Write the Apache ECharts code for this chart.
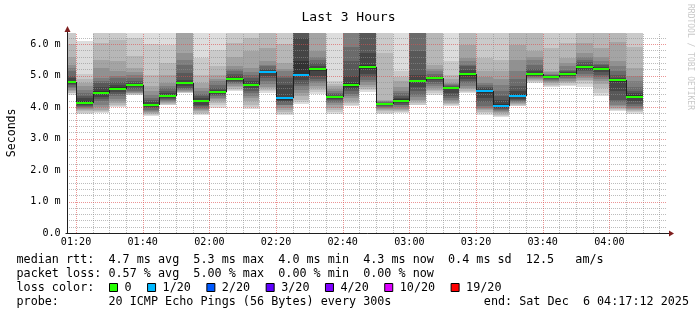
<!DOCTYPE html>
<html><head><meta charset="utf-8">
<script src="https://cdn.jsdelivr.net/npm/echarts@6/dist/echarts.min.js"></script>
<style>html,body{margin:0;padding:0;background:#fff}#c{width:697px;height:315px}</style>
</head><body><div id="c"></div>
<script>
// ---------------- data ----------------
const chartTitle = 'Last 3 Hours';
const yAxisName = 'Seconds';
const watermark = 'RRDTOOL / TOBI OETIKER';
const windowStart = '01:17:12';
const windowEnd = '04:17:12';
const yMax = 6.36;
const xTickLabels = ['01:20','01:40','02:00','02:20','02:40','03:00','03:20','03:40','04:00'];
const yTickValues = [0, 1, 2, 3, 4, 5, 6];
const barEnds = ['01:20','01:25','01:30','01:35','01:40','01:45','01:50','01:55','02:00','02:05','02:10','02:15',
  '02:20','02:25','02:30','02:35','02:40','02:45','02:50','02:55','03:00','03:05','03:10','03:15',
  '03:20','03:25','03:30','03:35','03:40','03:45','03:50','03:55','04:00','04:05','04:10'];
const medians = [4.80,4.14,4.43,4.58,4.70,4.06,4.36,4.75,4.19,4.49,4.90,4.69,5.10,4.28,5.02,5.20,4.31,4.69,5.27,4.10,
  4.19,4.82,4.91,4.59,5.04,4.50,4.04,4.35,5.04,4.95,5.05,5.28,5.22,4.86,4.33];
const lossCount = [0,0,0,0,0,0,0,0,0,0,0,0,1,1,1,0,0,0,0,0,0,0,0,0,0,1,1,1,0,0,0,0,0,0,0];
// 20 sorted ping rtts (ms) per 5-minute step
const smokePings = [
 [4.39,4.44,4.46,4.50,4.55,4.60,4.65,4.70,4.74,4.78,4.84,4.92,5.00,5.13,5.25,5.35,5.60,6.00,6.50,7.50],
 [3.78,3.82,3.86,3.90,3.94,3.97,4.00,4.03,4.06,4.10,4.18,4.28,4.36,4.44,4.55,4.66,4.75,4.90,5.05,6.10],
 [3.80,3.83,3.87,3.92,4.00,4.07,4.18,4.25,4.33,4.40,4.52,4.62,4.76,4.84,4.92,5.24,5.50,6.03,6.60,7.20],
 [3.99,4.02,4.06,4.13,4.20,4.27,4.34,4.40,4.47,4.54,4.62,4.71,4.80,4.92,5.00,5.13,5.45,6.14,6.60,7.20],
 [4.37,4.39,4.41,4.43,4.45,4.48,4.52,4.57,4.62,4.67,4.71,4.76,4.82,4.92,5.03,5.10,5.24,5.61,6.19,7.00],
 [3.70,3.74,3.78,3.81,3.84,3.88,3.92,3.96,3.99,4.03,4.10,4.16,4.23,4.30,4.39,4.50,4.66,5.03,6.00,7.00],
 [4.05,4.07,4.09,4.12,4.15,4.18,4.21,4.25,4.29,4.32,4.39,4.45,4.52,4.60,4.68,4.76,5.03,5.40,5.98,6.80],
 [4.44,4.45,4.47,4.49,4.51,4.53,4.56,4.61,4.67,4.72,4.77,4.87,5.08,5.34,5.50,5.71,6.60,7.00,7.50,8.00],
 [3.74,3.78,3.82,3.86,3.90,3.94,3.98,4.03,4.08,4.15,4.23,4.29,4.35,4.42,4.50,4.60,4.76,5.03,5.55,6.80],
 [3.97,4.05,4.13,4.18,4.24,4.29,4.34,4.38,4.42,4.47,4.52,4.55,4.60,4.70,4.82,4.90,5.03,5.29,5.82,6.80],
 [4.50,4.55,4.58,4.63,4.68,4.72,4.76,4.80,4.84,4.88,4.93,4.97,5.05,5.13,5.20,5.29,5.60,6.03,6.60,7.50],
 [3.94,4.00,4.07,4.18,4.29,4.36,4.45,4.52,4.60,4.66,4.73,4.82,4.92,5.03,5.10,5.24,5.77,6.19,6.60,7.00],
 [4.44,4.50,4.55,4.60,4.65,4.72,4.82,4.92,5.00,5.08,5.12,5.17,5.22,5.29,5.35,5.45,5.87,6.40,6.80,7.50],
 [3.74,3.79,3.85,3.92,3.98,4.05,4.08,4.15,4.20,4.22,4.32,4.70,4.92,5.00,5.13,5.20,5.40,6.00,6.50,7.00],
 [4.10,4.15,4.23,4.35,4.44,4.55,4.66,4.72,4.85,4.97,5.45,6.19,6.50,6.80,7.00,7.20,7.50,8.00,8.50,9.00],
 [4.42,4.48,4.55,4.60,4.66,4.75,4.82,4.90,5.00,5.15,5.22,5.29,5.40,5.50,5.60,5.77,6.60,7.00,7.50,8.00],
 [3.78,3.85,3.92,3.98,4.05,4.12,4.16,4.21,4.25,4.29,4.33,4.36,4.40,4.45,4.50,4.58,4.66,4.72,4.82,7.00],
 [4.02,4.06,4.12,4.20,4.29,4.35,4.42,4.50,4.58,4.65,4.75,5.00,5.45,5.90,6.50,7.00,7.50,8.00,8.50,9.00],
 [4.48,4.53,4.58,4.65,4.71,4.80,4.87,4.95,5.05,5.20,5.34,5.71,6.50,6.80,7.00,7.20,7.50,8.00,8.50,9.00],
 [3.78,3.82,3.86,3.90,3.94,3.97,4.00,4.04,4.07,4.09,4.11,4.12,4.14,4.16,4.18,4.20,4.23,5.71,6.80,7.50],
 [3.81,3.84,3.88,3.92,3.95,4.00,4.05,4.08,4.13,4.18,4.24,4.30,4.36,4.44,4.52,4.65,4.82,4.95,5.13,7.00],
 [4.05,4.08,4.13,4.18,4.23,4.32,4.39,4.52,4.65,4.78,4.87,5.03,5.77,6.60,7.00,7.20,7.50,8.00,8.50,9.00],
 [4.39,4.45,4.50,4.55,4.60,4.66,4.72,4.80,4.87,4.90,4.93,4.95,4.97,5.05,5.13,5.20,5.34,6.50,7.00,8.00],
 [4.02,4.05,4.09,4.13,4.18,4.23,4.28,4.35,4.45,4.56,4.60,4.63,4.66,4.70,4.72,4.76,4.90,5.03,5.45,7.00],
 [4.46,4.49,4.52,4.56,4.60,4.68,4.76,4.82,4.90,5.00,5.08,5.18,5.29,5.35,5.45,5.56,5.98,6.50,7.00,8.00],
 [3.76,3.80,3.85,3.89,3.93,3.97,4.02,4.15,4.30,4.45,4.55,4.60,4.65,4.70,4.76,4.95,5.13,5.56,6.60,7.00],
 [3.68,3.71,3.76,3.81,3.83,3.86,3.90,3.93,3.97,4.02,4.10,4.23,4.35,4.50,4.71,4.90,5.13,5.50,6.50,7.00],
 [4.02,4.04,4.07,4.10,4.12,4.15,4.18,4.22,4.26,4.31,4.42,4.52,4.66,4.90,5.13,5.50,5.98,6.50,7.00,8.00],
 [4.77,4.80,4.83,4.86,4.89,4.92,4.94,4.97,5.00,5.02,5.08,5.13,5.20,5.35,5.50,5.60,5.77,6.50,7.00,8.00],
 [4.62,4.66,4.71,4.75,4.78,4.82,4.85,4.88,4.92,4.95,4.97,4.99,5.01,5.03,5.06,5.10,5.13,5.87,6.60,7.00],
 [4.66,4.71,4.76,4.80,4.84,4.88,4.92,4.97,5.00,5.03,5.07,5.10,5.14,5.19,5.30,5.40,5.56,6.03,6.60,7.50],
 [4.63,4.72,4.82,4.87,4.92,4.98,5.05,5.13,5.18,5.24,5.29,5.34,5.42,5.50,5.60,5.71,6.03,6.50,7.00,8.00],
 [4.34,4.45,4.60,4.72,4.82,4.88,4.95,5.03,5.10,5.18,5.24,5.28,5.34,5.38,5.45,5.60,5.87,6.50,7.00,8.00],
 [3.87,3.90,3.94,3.97,4.02,4.07,4.15,4.23,4.50,4.80,4.88,4.92,5.02,5.13,5.30,5.45,6.08,6.50,7.00,8.00],
 [3.78,3.83,3.88,3.92,3.95,3.98,4.02,4.10,4.20,4.30,4.37,4.44,4.50,4.65,4.82,5.00,5.24,5.90,6.60,7.00]
];
const lossLevels = [0, 1, 2, 3, 4, 10, 19];
const lossLabels = ['0', '1/20', '2/20', '3/20', '4/20', '10/20', '19/20'];
const lossColors = ['#26ff00', '#00b8ff', '#0059ff', '#5e00ff', '#7e00ff', '#dd00ff', '#ff0000'];
const legendMedian = 'median rtt:  4.7 ms avg  5.3 ms max  4.0 ms min  4.3 ms now  0.4 ms sd  12.5   am/s';
const legendLoss = 'packet loss: 0.57 % avg  5.00 % max  0.00 % min  0.00 % now';
const legendColorTitle = 'loss color:';
const legendProbe = 'probe:       20 ICMP Echo Pings (56 Bytes) every 300s';
const legendEnd = 'end: Sat Dec  6 04:17:12 2025';

// ---------------- helpers ----------------
const FONT = '"DejaVu Sans Mono", monospace';
const LEGEND_PX = 11.75;
const toMin = s => { const p = s.split(':').map(Number); return p[0] * 60 + p[1] + (p[2] || 0) / 60; };
const xMin = toMin(windowStart), xMax = toMin(windowEnd);
const tickValues = xTickLabels.map(toMin);
const labelOf = v => { const i = tickValues.findIndex(t => Math.abs(t - v) < 1e-6); return i >= 0 ? xTickLabels[i] : ''; };
const half = 10;
const greyOf = ibase => { const g = Math.floor(190 / half * (half - ibase)) + 50; return 'rgb(' + g + ',' + g + ',' + g + ')'; };
const lossColorOf = n => { let c = lossColors[0]; lossLevels.forEach((l, i) => { if (n >= l) c = lossColors[i]; }); return c; };

// grid line positions (derived from the axis ranges)
const minorX = [], majorX = [], minorY = [], majorY = [];
for (let t = Math.ceil(xMin / 5) * 5; t <= xMax; t += 5) (t % 20 === 0 ? majorX : minorX).push([t, 0]);
for (let k = 1; k * 0.2 <= yMax + 1e-9; k++) (k % 5 === 0 ? majorY : minorY).push([xMin, Math.round(k * 2) / 10]);

const smokeData = barEnds.map((e, i) => [toMin(e), i]);

const chart = echarts.init(document.getElementById('c'), null, { renderer: 'canvas', width: 697, height: 315 });

function renderSmoke(params, api) {
  const i = params.dataIndex;
  const end = api.value(0);
  const start = Math.max(end - 5, xMin);
  const p = smokePings[i];
  const children = [];
  for (let k = 0; k < p.length - 1; k++) {
    const lo = Math.min(p[k], yMax), hi = Math.min(p[k + 1], yMax);
    if (hi <= lo) continue;
    const b = k + 1;
    const ibase = b <= half ? b : (2 * half - b);
    const a = api.coord([start, lo]), c = api.coord([end, hi]);
    const x0 = Math.round(a[0]), x1 = Math.round(c[0]);
    const yb = Math.round(a[1]), yt = Math.round(c[1]);
    if (yb - yt <= 0) continue;
    children.push({ type: 'rect', shape: { x: x0, y: yt, width: x1 - x0, height: yb - yt },
      style: { fill: greyOf(ibase) }, silent: true });
  }
  return { type: 'group', children };
}

const makeGridRenderer = (vertical, color) => function (params, api) {
  let x1, y1, x2, y2;
  if (vertical) {
    const v = api.value(0);
    const a = api.coord([v, 0]), b = api.coord([v, yMax]);
    x1 = x2 = Math.round(a[0]) + 0.5; y1 = Math.round(a[1]); y2 = Math.round(b[1]);
  } else {
    const v = api.value(1);
    const a = api.coord([xMin, v]), b = api.coord([xMax, v]);
    y1 = y2 = Math.round(a[1]) + 0.5; x1 = Math.round(a[0]); x2 = Math.round(b[0]);
  }
  return { type: 'line', shape: { x1, y1, x2, y2 }, silent: true,
    style: { stroke: color, lineWidth: 1, lineDash: [1, 1] } };
};

function renderMedian(params, api) {
  const i = params.dataIndex;
  const end = api.value(0), m = api.value(1);
  const start = Math.max(end - 5, xMin);
  const a = api.coord([start, m]), c = api.coord([end, m]);
  const x0 = Math.round(a[0]), x1 = Math.round(c[0]), y = Math.round(a[1]);
  const children = [];
  if (i > 0) {
    const prev = api.coord([start, medians[i - 1]]);
    const yp = Math.round(prev[1]);
    children.push({ type: 'line', shape: { x1: x0 + 0.5, y1: Math.min(y, yp), x2: x0 + 0.5, y2: Math.max(y, yp) },
      style: { stroke: '#202020', lineWidth: 1 }, silent: true });
  }
  children.push({ type: 'rect', shape: { x: x0, y: y - 1, width: x1 - x0, height: 2 },
    style: { fill: lossColorOf(lossCount[i]) }, silent: true });
  return { type: 'group', children };
}

function renderArrows(params, api) {
  const o = api.coord([xMin, 0]);
  const xr = api.coord([xMax, 0]);
  const yt = api.coord([xMin, yMax]);
  const ox = Math.round(o[0]) + 0.5, oy = Math.round(o[1]) + 0.5;
  const rx = Math.round(xr[0]), ty = Math.round(yt[1]);
  return { type: 'group', silent: true, children: [
    { type: 'line', shape: { x1: ox, y1: oy, x2: ox, y2: ty - 2 }, style: { stroke: '#1f1f1f', lineWidth: 1 } },
    { type: 'line', shape: { x1: ox - 2, y1: oy, x2: rx + 3, y2: oy }, style: { stroke: '#1f1f1f', lineWidth: 1 } },
    { type: 'polygon', shape: { points: [[ox - 3, ty - 1], [ox + 3, ty - 1], [ox, ty - 7]] }, style: { fill: '#7f1f1f' } },
    { type: 'polygon', shape: { points: [[rx + 2, oy - 3], [rx + 2, oy + 3], [rx + 7, oy]] }, style: { fill: '#7f1f1f' } }
  ]};
}

// legend graphics
const CW = LEGEND_PX * 0.602;
const LF = LEGEND_PX + 'px ' + FONT;
const graphics = [
  { type: 'text', x: 16.5, y: 259.5, style: { text: legendMedian, font: LF, fill: '#000', verticalAlign: 'middle' } },
  { type: 'text', x: 16.5, y: 273.5, style: { text: legendLoss, font: LF, fill: '#000', verticalAlign: 'middle' } },
  { type: 'text', x: 16.5, y: 287.5, style: { text: legendColorTitle, font: LF, fill: '#000', verticalAlign: 'middle' } },
  { type: 'text', x: 16.5, y: 301.5, style: { text: legendProbe, font: LF, fill: '#000', verticalAlign: 'middle' } },
  { type: 'text', x: 689, y: 301.5, style: { text: legendEnd, font: LF, fill: '#000', verticalAlign: 'middle', align: 'right' } },
  { type: 'text', x: 690, y: 4, rotation: -Math.PI / 2, style: { text: watermark, font: '8px ' + FONT, fill: '#c8c8c8', verticalAlign: 'middle' } }
];
let lx = 109.5;
lossLabels.forEach((lab, i) => {
  graphics.push({ type: 'rect', shape: { x: lx, y: 283.5, width: 8, height: 8 }, style: { fill: lossColors[i], stroke: '#000', lineWidth: 1 } });
  graphics.push({ type: 'text', x: lx + 15, y: 287.5, style: { text: lab, font: LF, fill: '#000', verticalAlign: 'middle' } });
  lx = lx + 15 + lab.length * CW + 16;
});

const MINOR = 'rgba(143,143,143,0.6)', MAJOR = 'rgba(222,79,79,0.6)';

chart.setOption({
  animation: false,
  backgroundColor: '#fff',
  title: { text: chartTitle, left: 'center', top: 6, textStyle: { fontFamily: FONT, fontSize: 13, fontWeight: 'normal', color: '#000' } },
  grid: { left: 66.7, right: 30.3, top: 32.7, bottom: 82, containLabel: false, outerBoundsMode: 'none' },
  xAxis: {
    type: 'value', min: xMin, max: xMax,
    axisLine: { show: false }, splitLine: { show: false },
    axisTick: { show: false },
    axisLabel: { customValues: tickValues, formatter: v => labelOf(v), fontFamily: FONT, fontSize: 10.1, color: '#000', margin: 4, showMinLabel: true, showMaxLabel: true }
  },
  yAxis: {
    type: 'value', min: 0, max: yMax,
    name: yAxisName, nameLocation: 'middle', nameRotate: 90, nameGap: 49,
    nameTextStyle: { fontFamily: FONT, fontSize: 11.6, color: '#000' },
    axisLine: { show: false }, splitLine: { show: false }, axisTick: { show: false },
    axisLabel: { customValues: yTickValues, formatter: v => v === 0 ? '0.0' : v.toFixed(1) + ' m', fontFamily: FONT, fontSize: 10.1, color: '#000', margin: 6 }
  },
  graphic: graphics,
  series: [
    { type: 'custom', name: 'smoke', renderItem: renderSmoke, data: smokeData, z: 1, silent: true },
    { type: 'custom', name: 'minorX', renderItem: makeGridRenderer(true, MINOR), data: minorX, z: 2, silent: true },
    { type: 'custom', name: 'minorY', renderItem: makeGridRenderer(false, MINOR), data: minorY, z: 2, silent: true },
    { type: 'custom', name: 'majorX', renderItem: makeGridRenderer(true, MAJOR), data: majorX, z: 2, silent: true },
    { type: 'custom', name: 'majorY', renderItem: makeGridRenderer(false, MAJOR), data: majorY, z: 2, silent: true },
    { type: 'custom', name: 'median', renderItem: renderMedian, data: barEnds.map((e, i) => [toMin(e), medians[i]]), z: 3, silent: true },
    { type: 'custom', name: 'axes', renderItem: renderArrows, data: [[xMin, 0]], z: 4, silent: true, clip: false }
  ]
});
</script></body></html>
